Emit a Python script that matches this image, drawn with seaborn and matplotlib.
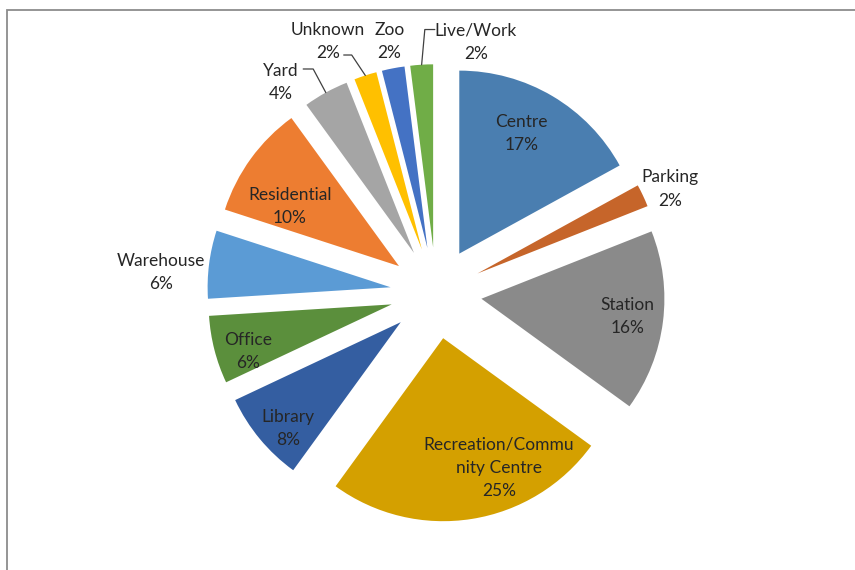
import numpy as np
import matplotlib.pyplot as plt
import seaborn as sns
from matplotlib.patches import Rectangle

# data, clockwise from 12 o'clock
categories = ["Centre", "Parking", "Station", "Recreation/Commu\nnity Centre", "Library",
              "Office", "Warehouse", "Residential", "Yard", "Unknown", "Zoo", "Live/Work"]
shares = [17, 2, 16, 25, 8, 6, 6, 10, 4, 2, 2, 2]
colors = ["#4a7eb0", "#c6652a", "#8a8a8a", "#d4a000", "#345ea1", "#5b8f3c",
          "#5b9bd5", "#ed7d31", "#a5a5a5", "#ffc000", "#4472c4", "#70ad47"]

# label placement: distance from wedge tip (in radii) and angle tweak (deg, clockwise)
label_dist = [0.76, 1.16, 0.80, 0.75, 0.83, 0.82, 1.26, 0.69, 1.20, 1.27, 1.17, 1.17]
label_turn = [-4.2, 0.4, -1.9, -15, -2.7, -2.2, -2.4, -5.7, -8.4, -5.9, 0.6, 15.1]
# leader lines (pixel offsets from label centre: elbow, end)
leaders = {8: ((32, -9), (22, -9)), 9: ((24, 18), (16, 18)), 11: ((-51, -8), (-41, -8))}

W, H = 855, 570
R = 183.0          # pie radius in px
CX, CY = 436, 293  # pie centre in px (from top-left)
TEXT_DROP = 4.5    # px, nudges label blocks down

sns.set_theme(style="white")
plt.rcParams['font.family'] = ['Lato', 'DejaVu Sans']

fig = plt.figure(figsize=(W / 100, H / 100), dpi=100)
ax = fig.add_axes([0, 0, 1, 1])
wedges, _ = ax.pie(shares, colors=colors, startangle=90, counterclock=False,
                   explode=[0.25] * len(shares), radius=1,
                   wedgeprops=dict(linewidth=0))
ax.set_xlim(-CX / R, (W - CX) / R)
ax.set_ylim(-(H - CY) / R, CY / R)
ax.set_aspect('auto')
ax.axis('off')

for i, w in enumerate(wedges):
    cx, cy = w.center
    b = np.radians(90 - (w.theta1 + w.theta2) / 2)   # clockwise from top
    a = b + np.radians(label_turn[i])
    lx = cx + label_dist[i] * np.sin(a)
    ly = cy + label_dist[i] * np.cos(a)
    ax.text(lx, ly - TEXT_DROP / R, f"{categories[i]}\n{shares[i]}%", ha='center', va='center',
            multialignment='center', fontsize=12.5, color='#262626', linespacing=1.55)
    if i in leaders:
        (ex, ey), (tx, ty) = leaders[i]
        px = [cx + np.sin(b), lx + ex / R, lx + tx / R]
        py = [cy + np.cos(b), ly - ey / R, ly - ty / R]
        ax.plot(px, py, color='#404040', lw=0.9)

# chart area border
fig.patches.append(Rectangle((7 / W, -0.05), 1.1, 1 - 10 / H + 0.05, transform=fig.transFigure,
                             fill=False, edgecolor='#8c8c8c', linewidth=1.3))

fig.savefig("out.png", dpi=100)
